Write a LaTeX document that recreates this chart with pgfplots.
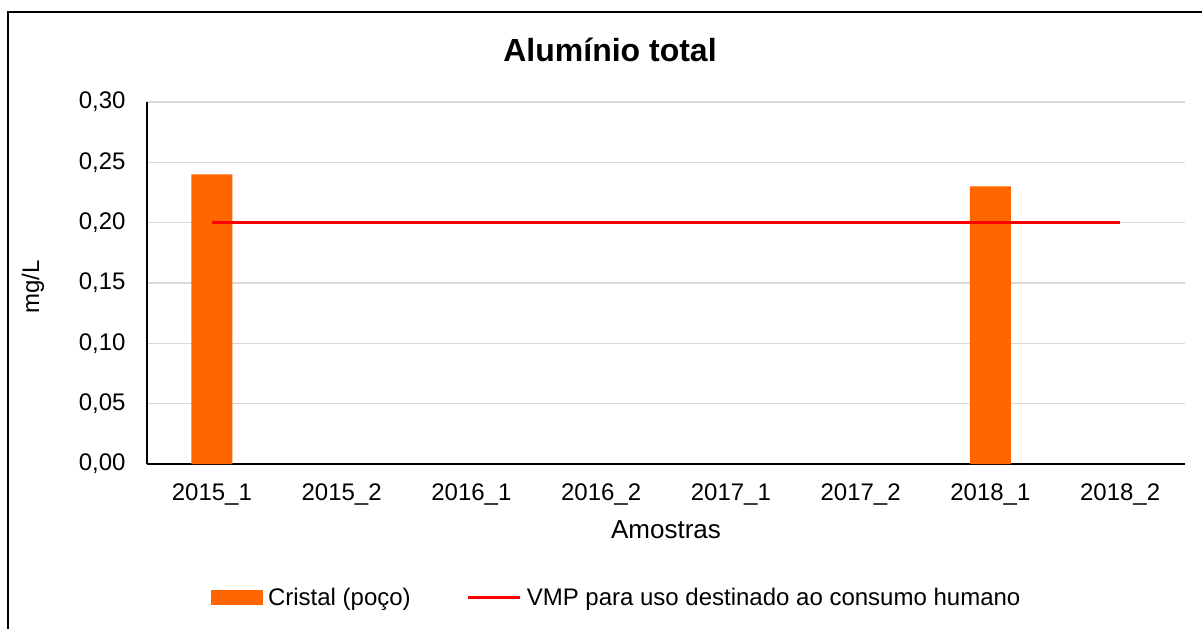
\documentclass[border=0pt]{standalone}
\usepackage{pgfplots}
\pgfplotsset{compat=1.18}
\usepackage{fontspec}
\setmainfont{Liberation Sans}

\definecolor{barorange}{HTML}{FF6600}
\definecolor{vmpred}{HTML}{FF0000}
\definecolor{gridgray}{HTML}{D9D9D9}

\newcommand{\fs}[1]{\fontsize{#1}{#1}\selectfont}

\begin{document}
\begin{tikzpicture}
% page = 1202 x 628 px at 0.5pt per px
\useasboundingbox (0,0) rectangle (601pt,314pt);
\begin{scope}
  \clip (0,0) rectangle (601pt,314pt);
  \draw[line width=1pt] (3.75pt,-10pt) -- (3.75pt,308pt) -- (620pt,308pt);
\end{scope}
\node[font=\fs{16}\bfseries, inner sep=0pt] at (305pt,289pt) {Alumínio total};
\begin{axis}[
    at={(73.5pt,82pt)}, anchor=south west,
    scale only axis,
    width=519pt, height=181pt,
    xmin=-0.5, xmax=7.5,
    ymin=0, ymax=0.3,
    axis x line*=bottom, axis y line*=left,
    axis line style={-, line width=1pt, black},
    xtick={0,1,2,3,4,5,6,7},
    xticklabels={2015\_1,2015\_2,2016\_1,2016\_2,2017\_1,2017\_2,2018\_1,2018\_2},
    ytick={0,0.05,0.10,0.15,0.20,0.25,0.30},
    major tick length=0pt,
    ymajorgrids,
    major grid style={gridgray, line width=0.75pt},
    /pgf/number format/fixed, /pgf/number format/fixed zerofill,
    /pgf/number format/precision=2, /pgf/number format/use comma,
    /pgf/number format/assume math mode=true,
    yticklabel style={font=\fs{12}, inner sep=0pt, xshift=-10.5pt},
    xticklabel style={font=\fs{12}, inner sep=0pt, yshift=-9.5pt},
    xlabel={Amostras},
    ylabel={mg/L},
    xlabel style={font=\fs{13}, inner sep=0pt, at={(axis description cs:0.5,-0.182)}, anchor=center},
    ylabel style={font=\fs{12}, inner sep=0pt, at={(axis description cs:-0.110,0.489)}, anchor=center},
    legend columns=2,
    legend style={at={(axis description cs:0.0617,-0.370)}, anchor=west, draw=none, inner sep=0pt, outer sep=0pt,
        font=\fs{12}, nodes={inner sep=0pt},
        /tikz/every odd column/.append style={column sep=2.5pt},
        /tikz/every even column/.append style={column sep=28pt}},
]
\addplot[ybar, bar width=20.5pt, bar shift=0pt, fill=barorange, draw=none,
    legend image code/.code={\fill[barorange] (0pt,-3.75pt) rectangle (26pt,3.75pt);}]
    coordinates {(0,0.24) (6,0.23)};
\addlegendentry{Cristal (poço)}
\addplot[vmpred, line width=1.5pt, mark=none,
    legend image code/.code={\draw[vmpred, line width=1.5pt] (0pt,0pt) -- (26pt,0pt);}]
    coordinates {(0,0.2) (1,0.2) (2,0.2) (3,0.2) (4,0.2) (5,0.2) (6,0.2) (7,0.2)};
\addlegendentry{VMP para uso destinado ao consumo humano}
\end{axis}
\end{tikzpicture}
\end{document}
